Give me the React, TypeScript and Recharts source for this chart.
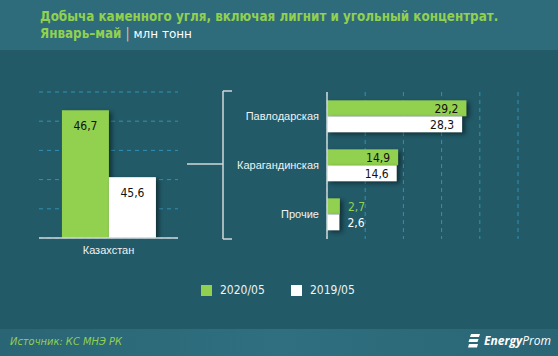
import React from 'react';
import { BarChart, Bar, XAxis, YAxis, CartesianGrid, LabelList } from 'recharts';

const titleLine1 = 'Добыча каменного угля, включая лигнит и угольный концентрат.';
const titleLine2 = 'Январь–май';
const unitText = 'млн тонн';
const sourceText = 'Источник: КС МНЭ РК';

const seriesNames = ['2020/05', '2019/05'];
const totalCategory = ['Казахстан'];
const total2020 = [46.7];
const total2019 = [45.6];
const totalTicks = [44.6, 45.08, 45.56, 46.04, 46.52, 47.0];

const regions = ['Павлодарская', 'Карагандинская', 'Прочие'];
const region2020 = [29.2, 14.9, 2.7];
const region2019 = [28.3, 14.6, 2.6];
const regionTicks = [0, 8, 16, 24, 32, 40];

const GREEN = '#92d050';
const WHITE = '#ffffff';
const BG = '#225a68';
const GRID = '#3391b3';
const AXIS = '#d0d8da';

const totalData = totalCategory.map((name, i) => ({ name, a: total2020[i], b: total2019[i] }));
const regionData = regions.map((name, i) => ({ name, a: region2020[i], b: region2019[i] }));

const fmt = (v: number) => String(v).replace('.', ',');

const ShadowRect = (props: any) => {
  const { x, y, width, height, fill } = props;
  return (
    <rect x={x} y={y} width={width} height={height} fill={fill}
      style={{ filter: 'drop-shadow(3px 2px 2px rgba(0,0,0,0.45))' }} />
  );
};

const makeRegionLabel = (outsideColor: string) => (props: any) => {
  const { x, y, width, height, value } = props;
  const inside = value > 5;
  const tx = inside ? x + width - 8 : x + width + 8;
  return (
    <text x={tx} y={y + height / 2} dy="0.36em" textAnchor={inside ? 'end' : 'start'}
      fill={inside ? '#111' : outsideColor} fontSize={12} fontFamily="'DejaVu Sans Condensed', 'DejaVu Sans', sans-serif">
      {fmt(value)}
    </text>
  );
};

const Logo = () => (
  <div style={{ position: 'absolute', left: 468, top: 334, display: 'flex', alignItems: 'center', color: '#fff' }}>
    <svg width="12" height="14" viewBox="0 0 12 14">
      <polygon points="3,0 12,0 11,3 2,3" fill="#fff" />
      <polygon points="1.5,5 10.5,5 9.5,8 0.5,8" fill="#fff" />
      <polygon points="1,10 10,10 9,13.5 0,13.5" fill="#fff" />
    </svg>
    <span style={{ marginLeft: 4, fontFamily: "'Open Sans', sans-serif", fontStyle: 'italic', fontSize: 12, lineHeight: '14px' }}>
      <b>Energy</b>Prom
    </span>
  </div>
);

export default function App() {
  const font = "'DejaVu Sans Condensed', 'DejaVu Sans', sans-serif";
  const tickFont = "'Liberation Sans', Arial, sans-serif";
  return (
    <div style={{ position: 'absolute', left: 0, top: 0, width: 558, height: 356, background: BG, overflow: 'hidden', fontFamily: font }}>
      {/* header */}
      <div style={{ position: 'absolute', left: 0, top: 0, width: 558, height: 50, background: '#2e6c7b' }} />
      <div style={{ position: 'absolute', left: 40, top: 8, color: GREEN, fontWeight: 'bold', fontSize: 13.3, whiteSpace: 'nowrap', lineHeight: '17px' }}>
        {titleLine1}
      </div>
      <div style={{ position: 'absolute', left: 40, top: 25, whiteSpace: 'nowrap', lineHeight: '17px', fontSize: 13.3 }}>
        <span style={{ color: GREEN, fontWeight: 'bold' }}>{titleLine2}</span>
        <span style={{ color: '#e9b98a', margin: '0 4px' }}>|</span>
        <span style={{ color: '#fff', fontSize: 12, fontFamily: "'DejaVu Sans', sans-serif" }}>{unitText}</span>
      </div>

      {/* footer */}
      <div style={{ position: 'absolute', left: 0, top: 329, width: 558, height: 27, background: 'linear-gradient(90deg, #2a6575 0%, #2f6f7f 50%, #2a6575 100%)' }} />
      <div style={{ position: 'absolute', left: 10, top: 335, color: GREEN, fontStyle: 'italic', fontSize: 11, whiteSpace: 'nowrap', lineHeight: '14px', fontFamily: "'DejaVu Sans Condensed', sans-serif" }}>
        {sourceText}
      </div>
      <Logo />

      {/* left chart */}
      <div style={{ position: 'absolute', left: 0, top: 0 }}>
        <BarChart width={200} height={280} data={totalData} margin={{ top: 92, right: 22, left: 39, bottom: 12 }}
          barCategoryGap="16.5%" barGap={0}>
          <CartesianGrid vertical={false} stroke={GRID} strokeDasharray="4 4" />
          <XAxis dataKey="name" tickLine={false} axisLine={{ stroke: AXIS, strokeWidth: 1.5 }}
            tick={{ fill: '#eef3f4', fontSize: 11, fontFamily: tickFont }} height={30} />
          <YAxis hide domain={[44.6, 47]} ticks={totalTicks} allowDataOverflow />
          <Bar dataKey="a" fill={GREEN} isAnimationActive={false} shape={ShadowRect}>
            <LabelList dataKey="a" position="insideTop" offset={11} fill="#111" fontSize={12} fontFamily={font} formatter={(v: any) => fmt(v)} />
          </Bar>
          <Bar dataKey="b" fill={WHITE} isAnimationActive={false} shape={ShadowRect}>
            <LabelList dataKey="b" position="insideTop" offset={11} fill="#111" fontSize={12} fontFamily={font} formatter={(v: any) => fmt(v)} />
          </Bar>
        </BarChart>
      </div>

      {/* bracket */}
      <svg style={{ position: 'absolute', left: 0, top: 0 }} width={558} height={356}>
        <g stroke={AXIS} strokeWidth={1.5} fill="none">
          <line x1={187} y1={164} x2={223} y2={164} />
          <line x1={223} y1={91} x2={223} y2={239} />
          <line x1={223} y1={91} x2={232} y2={91} />
          <line x1={223} y1={239} x2={232} y2={239} />
        </g>
      </svg>

      {/* right chart */}
      <div style={{ position: 'absolute', left: 210, top: 0 }}>
        <BarChart width={330} height={260} data={regionData} layout="vertical"
          margin={{ top: 92, right: 22, left: 0, bottom: 21 }} barCategoryGap="17%" barGap={0}>
          <CartesianGrid horizontal={false} stroke={GRID} strokeDasharray="4 4" />
          <XAxis type="number" hide domain={[0, 40]} ticks={regionTicks} />
          <YAxis type="category" dataKey="name" width={117} tickLine={false} tickMargin={2}
            axisLine={{ stroke: AXIS, strokeWidth: 1.5 }} tick={{ fill: '#eef3f4', fontSize: 11, fontFamily: tickFont }} />
          <Bar dataKey="a" fill={GREEN} isAnimationActive={false} shape={ShadowRect}>
            <LabelList dataKey="a" content={makeRegionLabel(GREEN)} />
          </Bar>
          <Bar dataKey="b" fill={WHITE} isAnimationActive={false} shape={ShadowRect}>
            <LabelList dataKey="b" content={makeRegionLabel('#ffffff')} />
          </Bar>
        </BarChart>
      </div>

      {/* legend */}
      {seriesNames.map((s, i) => (
        <div key={s} style={{ position: 'absolute', left: 201 + i * 90, top: 284, display: 'flex', alignItems: 'center' }}>
          <div style={{ width: 11, height: 11, background: i === 0 ? GREEN : WHITE }} />
          <span style={{ marginLeft: 8, color: '#eef3f4', fontSize: 12, lineHeight: '13px' }}>{s}</span>
        </div>
      ))}
    </div>
  );
}
